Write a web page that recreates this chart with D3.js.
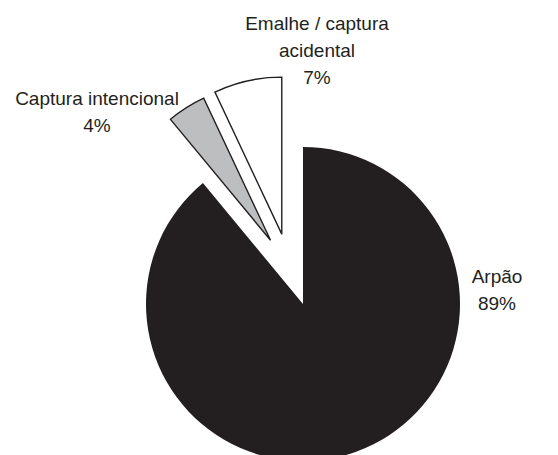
<!DOCTYPE html>
<html>
<head>
<meta charset="utf-8">
<script src="https://cdn.jsdelivr.net/npm/d3@7"></script>
<style>
  html, body { margin: 0; padding: 0; background: #fff; }
  svg { display: block; }
  text { font-family: "Liberation Sans", Arial, sans-serif; fill: #231f20; }
</style>
</head>
<body>
<script>
// ---- data ----
const categories = ["Arpão", "Captura intencional", "Emalhe / captura acidental"];
const values = [89, 4, 7];
const labelLines = [
  ["Arpão", "89%"],
  ["Captura intencional", "4%"],
  ["Emalhe / captura", "acidental", "7%"]
];

// ---- layout / style ----
const W = 558, H = 455;
const cx = 303, cy = 304, R = 157;
const fills = ["#231f20", "#bcbec0", "#ffffff"];
const strokes = ["none", "#231f20", "#231f20"];
// explosion per slice: distance and direction shift (degrees) from slice mid-angle
const explode = [
  { dist: 0, shift: 0 },
  { dist: 71.5, shift: 5.4 },
  { dist: 73, shift: -4.3 }
];
// label anchors relative to the pie center (first baseline)
const labelPos = [
  { dx: 194, dy: -21 },
  { dx: -206, dy: -199 },
  { dx: 14, dy: -274 }
];
const fontSize = 19, lineH = 27;

const svg = d3.select("body").append("svg")
  .attr("width", W).attr("height", H);

const pie = d3.pie().sort(null).value(d => d)
  .startAngle(0).endAngle(2 * Math.PI);
const arcs = pie(values);
const arc = d3.arc().innerRadius(0).outerRadius(R);

const g = svg.append("g").attr("transform", `translate(${cx},${cy})`);

g.selectAll("path.slice")
  .data(arcs)
  .join("path")
  .attr("class", "slice")
  .attr("d", arc)
  .attr("fill", (d, i) => fills[i])
  .attr("stroke", (d, i) => strokes[i])
  .attr("stroke-width", 1.4)
  .attr("stroke-linejoin", "miter")
  .attr("transform", (d, i) => {
    const e = explode[i];
    const a = (d.startAngle + d.endAngle) / 2 + e.shift * Math.PI / 180;
    const x = Math.sin(a) * e.dist, y = -Math.cos(a) * e.dist;
    return `translate(${x},${y})`;
  });

const labels = g.selectAll("text.lbl")
  .data(arcs)
  .join("text")
  .attr("class", "lbl")
  .attr("text-anchor", "middle")
  .attr("font-size", fontSize)
  .attr("x", (d, i) => labelPos[i].dx)
  .attr("y", (d, i) => labelPos[i].dy);

labels.selectAll("tspan")
  .data((d, i) => labelLines[i].map(t => ({ t, i })))
  .join("tspan")
  .attr("x", d => labelPos[d.i].dx)
  .attr("dy", (d, j) => j === 0 ? 0 : lineH)
  .text(d => d.t);
</script>
</body>
</html>
